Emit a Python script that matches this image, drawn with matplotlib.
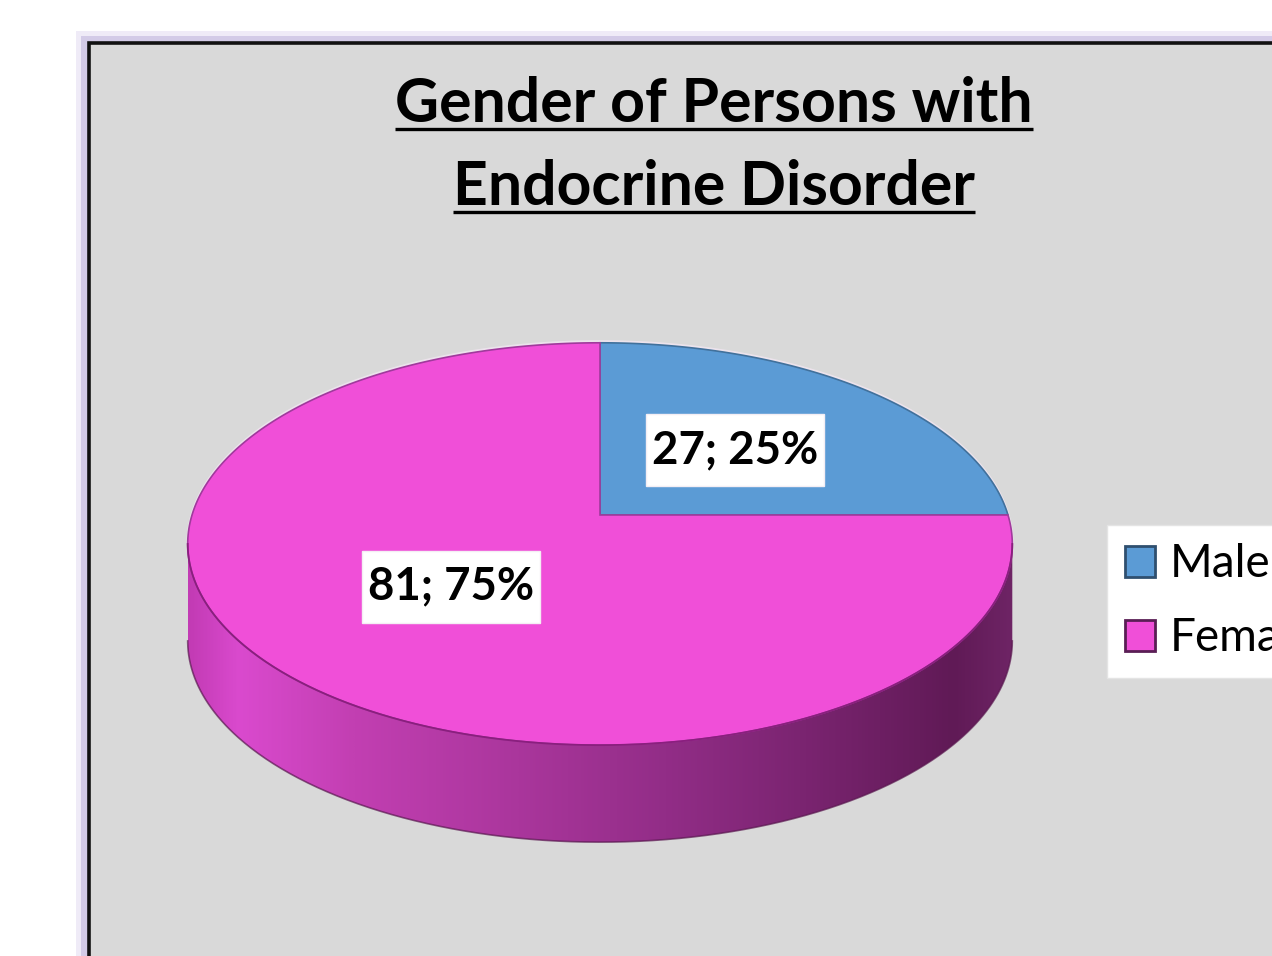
import numpy as np
import matplotlib
matplotlib.use("Agg")
import matplotlib.pyplot as plt
from matplotlib.patches import Polygon, Rectangle, Patch
from matplotlib.colors import LinearSegmentedColormap

# ---- data ----
categories = ["Male", "Female"]
counts = [27, 81]
slice_colors = ["#5B9BD5", "#F04FD8"]
title_lines = ["Gender of Persons with", "Endocrine Disorder"]

FONT = ["Lato", "DejaVu Sans"]
plt.rcParams["font.family"] = FONT

W, H = 1272, 956
fig = plt.figure(figsize=(W / 100, H / 100), dpi=100)
fig.patch.set_facecolor("white")
ax = fig.add_axes([0, 0, 1, 1])
ax.set_xlim(0, W)
ax.set_ylim(H, 0)
ax.axis("off")

# ---- chart panel with soft lavender rim ----
ax.add_patch(Rectangle((76, 31), 1400, 1100, facecolor="#EFEBF7", edgecolor="none", zorder=0))
ax.add_patch(Rectangle((81, 36), 1400, 1100, facecolor="#D3CBE7", edgecolor="none", zorder=0))
ax.add_patch(Rectangle((89, 43), 1400, 1100, facecolor="#D9D9D9",
                       edgecolor="#111111", lw=2.6, zorder=1))

renderer = fig.canvas.get_renderer()


def fitted_text(s, x, y, width_px, weight, **kw):
    """Place text whose rendered width equals width_px."""
    t = ax.text(x, y, s, fontsize=40, fontweight=weight, **kw)
    w = t.get_window_extent(renderer).width
    t.set_fontsize(40 * width_px / w)
    return t


# ---- title (underlined) ----
title_y = [122, 205]
title_w = [638, 522]
for line, yb, wpx in zip(title_lines, title_y, title_w):
    t = fitted_text(line, 714, yb, wpx, "bold", ha="center", va="baseline",
                    color="black", zorder=5)
    bb = t.get_window_extent(renderer)
    ax.plot([bb.x0, bb.x1], [yb + 7, yb + 7], color="black", lw=2.4,
            solid_capstyle="butt", zorder=5)

# ---- 3D pie geometry ----
cx, cy = 600.0, 515.0
A, B = 408.0, 197.0
k = 0.144          # perspective strength
depth = 97.0


def proj(theta, r=1.0):
    c, s = r * np.cos(theta), -r * np.sin(theta)
    w = 1.0 / (1.0 - k * s)
    return cx + A * c * w, cy + B * s * w


total = float(sum(counts))
fracs = [v / total for v in counts]
bounds = []
a = np.pi / 2
for f in fracs:
    bounds.append((a, a - 2 * np.pi * f))
    a -= 2 * np.pi * f

# side wall: front arc between the two silhouette points
t_right = -np.arcsin(k)
t_left = np.pi + np.arcsin(k)
front = np.linspace(t_right, t_right - (2 * np.pi - (t_left - t_right)), 400)
fx, fy = proj(front)
side_xy = np.vstack([np.column_stack([fx, fy]),
                     np.column_stack([fx[::-1], fy[::-1] + depth])])
side_poly = Polygon(side_xy, closed=True, facecolor="none", edgecolor="none", zorder=2)
ax.add_patch(side_poly)

side_cmap = LinearSegmentedColormap.from_list("side", [
    (0.00, "#C23BB4"), (0.06, "#DA4ACE"), (0.20, "#C23FB2"),
    (0.40, "#AA369C"), (0.58, "#922D87"), (0.75, "#7A2470"),
    (0.93, "#601A56"), (1.00, "#6E2465")])
grad = np.linspace(0, 1, 512)[None, :].repeat(8, axis=0)
xmin, xmax = fx.min(), fx.max()
ymin, ymax = fy.min(), fy.max() + depth
im = ax.imshow(grad, cmap=side_cmap, extent=(xmin, xmax, ymax, ymin),
               aspect="auto", zorder=2, interpolation="bilinear")
im.set_clip_path(side_poly)
ax.plot(fx, fy + depth, color="#5A1850", lw=1.2, alpha=0.7, zorder=3)
ax.set_xlim(0, W)
ax.set_ylim(H, 0)

# top faces
edge_cols = ["#41719C", "#A03A9C"]
for (a0, a1), col, ec in zip(bounds, slice_colors, edge_cols):
    th = np.linspace(a0, a1, 300)
    px, py = proj(th)
    xy = np.vstack([[cx, cy], np.column_stack([px, py]), [cx, cy]])
    ax.add_patch(Polygon(xy, closed=True, facecolor=col, edgecolor=ec,
                         lw=1.2, zorder=4, joinstyle="miter"))

# seam between top face and wall
ax.plot(fx, fy, color="#8A1F7E", lw=1.3, zorder=4.5)
# pale halo around the back of the silhouette
full = np.linspace(0, 2 * np.pi, 600)
hx, hy = proj(full)
back = hy < cy + 30
ax.plot(np.where(back, hx, np.nan), np.where(back, hy - 1.5, np.nan),
        color="#F2E6F2", lw=1.6, alpha=0.8, zorder=3.9)

# ---- data labels (white boxes sized from the text extent) ----
label_r = 0.49
for (a0, a1), v, f in zip(bounds, counts, fracs):
    mid = 0.5 * (a0 + a1)
    lx, ly = proj(mid, label_r)
    t = ax.text(lx, ly, f"{v}; {f * 100:.0f}%", fontsize=40, fontweight="bold",
                ha="center", va="center", color="black", zorder=6)
    w = t.get_window_extent(renderer).width
    t.set_fontsize(40 * 166 / w)
    bb = t.get_window_extent(renderer)
    bw, bh = bb.width + 12, 72
    ax.add_patch(Rectangle((lx - bw / 2, ly - bh / 2), bw, bh,
                           facecolor="white", edgecolor="#F4EEF4", lw=1.0,
                           zorder=5.5))

# ---- legend ----
handles = [Patch(facecolor=c, edgecolor=e, lw=2.0) for c, e in
           zip(slice_colors, ["#2F4F6F", "#5A1E55"])]
leg = ax.legend(handles, categories, loc="upper left",
                bbox_to_anchor=(1107 / W, 1 - 525 / H),
                bbox_transform=fig.transFigure, frameon=True, fancybox=False,
                fontsize=33, handlelength=0.65, handleheight=0.65,
                handletextpad=0.33, labelspacing=0.70, borderpad=0.40,
                borderaxespad=0.0, framealpha=1.0)
leg.get_frame().set_facecolor("white")
leg.get_frame().set_edgecolor("#E4E4E4")
leg.set_zorder(7)

fig.savefig("out.png", dpi=100, facecolor="white")
